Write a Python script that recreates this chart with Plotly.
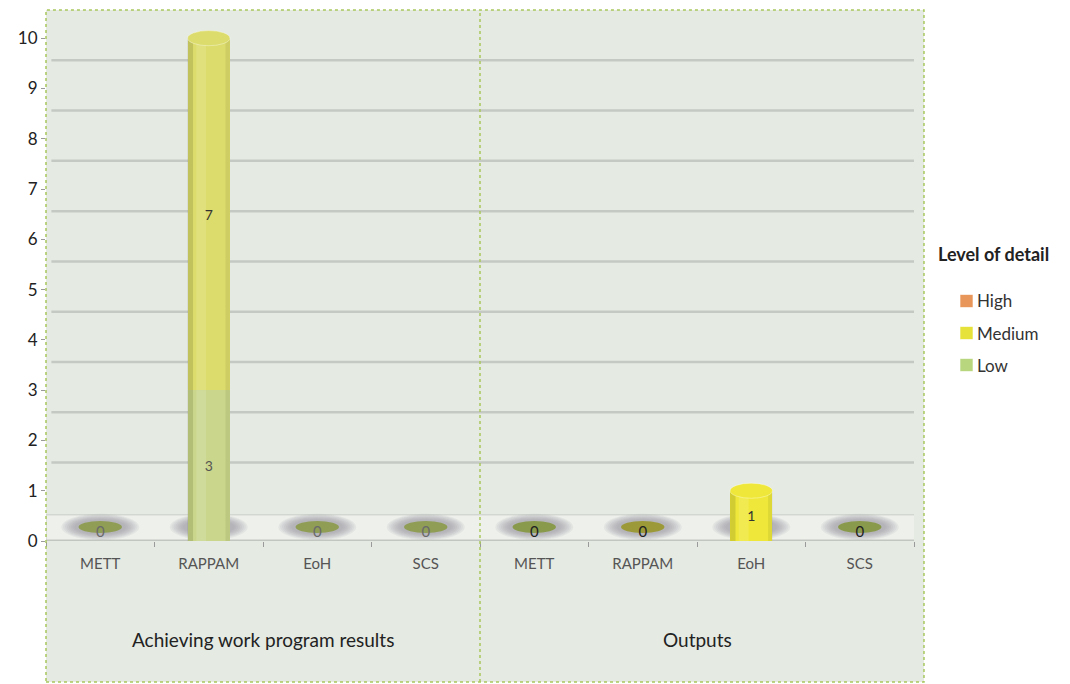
import plotly.graph_objects as go

# Categories: two evaluation groups, four tools each
tools = ["METT", "RAPPAM", "EoH", "SCS", "METT", "RAPPAM", "EoH", "SCS"]
groups = ["Achieving work program results", "Outputs"]

# Counts per level of detail
low = [0, 3, 0, 0, 0, 0, 0, 0]
medium = [0, 7, 0, 0, 0, 0, 1, 0]
high = [0, 0, 0, 0, 0, 0, 0, 0]

y_ticks = list(range(0, 11))

FONT = "Lato, 'Open Sans', sans-serif"
x = list(range(len(tools)))
BW = 0.39

low_col = ["#c9d68c"] * 8
med_col = ["#dcdc6c"] * 4 + ["#efe83a"] * 4
high_col = ["#e8965a"] * 8

fig = go.Figure()

def lbl(vals):
    return [str(v) if v else "" for v in vals]

for name, vals, cols, tc in [("Low", low, low_col, "#555555"),
                             ("Medium", medium, med_col, "#333333"),
                             ("High", high, high_col, "#333333")]:
    fig.add_trace(go.Bar(
        x=x, y=vals, name=name, width=BW,
        marker=dict(color=cols, line=dict(width=0)),
        text=lbl(vals), textposition="inside", insidetextanchor="middle",
        textfont=dict(family=FONT, size=14, color=tc),
        showlegend=False, hoverinfo="y+name",
    ))

totals = [a + b + c for a, b, c in zip(low, medium, high)]

# zero labels under empty categories
zx = [i for i, t in enumerate(totals) if t == 0]
fig.add_trace(go.Scatter(
    x=zx, y=[0.15] * len(zx), mode="text", text=["0"] * len(zx),
    textfont=dict(family=FONT, size=15,
                  color=["#6a6a6a" if i < 4 else "#222222" for i in zx]),
    showlegend=False, hoverinfo="skip",
))

shapes = []
# plot area background and dotted frame
shapes.append(dict(type="rect", xref="paper", yref="paper", x0=0, x1=1.0115,
                   y0=-0.2655, y1=1, fillcolor="#e5eae3", line=dict(width=0),
                   layer="below"))
shapes.append(dict(type="rect", xref="paper", yref="paper", x0=0, x1=1.0115,
                   y0=-0.2655, y1=1, fillcolor="rgba(0,0,0,0)",
                   line=dict(color="#a9c85e", width=1.5, dash="dot"),
                   layer="above"))
shapes.append(dict(type="line", xref="x", yref="paper", x0=3.5, x1=3.5,
                   y0=-0.2655, y1=1,
                   line=dict(color="#a9c85e", width=1.5, dash="dot"),
                   layer="above"))
# back-wall gridlines
for k in range(1, 10):
    shapes.append(dict(type="line", xref="x", yref="y", x0=-0.45, x1=7.52,
                       y0=k + 0.56, y1=k + 0.56,
                       line=dict(color="#c5c9c3", width=2.5), layer="below"))
# floor
shapes.append(dict(type="rect", xref="x", yref="y", x0=-0.5, x1=7.52,
                   y0=0, y1=0.52, fillcolor="#eef0ec",
                   line=dict(color="#d3d7d1", width=1.5), layer="below"))
shapes.append(dict(type="line", xref="x", yref="y", x0=-0.5, x1=7.52,
                   y0=0, y1=0, line=dict(color="#c2c6c0", width=3),
                   layer="below"))

# soft shadows and discs at the base of each category
disc_cols = ["#8f9d55", "#8f9d55", "#8f9d55", "#8f9d55",
             "#8a9a4c", "#9c9a38", "#8a9a4c", "#8a9a4c"]
for i in x:
    n = 8
    for s in range(n):
        f = 1 - s / n
        dx = 0.22 + 0.14 * f
        dy = 0.13 + 0.13 * f
        shapes.append(dict(type="circle", xref="x", yref="y",
                           x0=i - dx, x1=i + dx, y0=0.28 - dy, y1=0.28 + dy,
                           fillcolor="#8e949a", opacity=0.11,
                           line=dict(width=0), layer="below"))
    if totals[i] == 0:
        shapes.append(dict(type="circle", xref="x", yref="y",
                           x0=i - 0.2, x1=i + 0.2, y0=0.16, y1=0.4,
                           fillcolor=disc_cols[i], line=dict(width=0),
                           layer="below"))

# cylinder shading and caps on non-empty stacks
for i in x:
    if totals[i] == 0:
        continue
    x0, x1 = i - BW / 2, i + BW / 2
    base = 0
    for vals, cols in [(low, low_col), (medium, med_col), (high, high_col)]:
        v = vals[i]
        if v:
            shapes.append(dict(type="rect", xref="x", yref="y", x0=x0,
                               x1=x0 + 0.05, y0=base, y1=base + v,
                               fillcolor="rgba(80,80,20,0.18)",
                               line=dict(width=0), layer="above"))
            shapes.append(dict(type="rect", xref="x", yref="y", x0=x1 - 0.04,
                               x1=x1, y0=base, y1=base + v,
                               fillcolor="rgba(80,80,20,0.10)",
                               line=dict(width=0), layer="above"))
            shapes.append(dict(type="rect", xref="x", yref="y", x0=x0 + 0.08,
                               x1=x0 + 0.17, y0=base, y1=base + v,
                               fillcolor="rgba(255,255,255,0.12)",
                               line=dict(width=0), layer="above"))
            top_col = cols[i]
        base += v
    shapes.append(dict(type="circle", xref="x", yref="y", x0=x0, x1=x1,
                       y0=totals[i] - 0.15, y1=totals[i] + 0.15,
                       fillcolor=top_col,
                       line=dict(color="rgba(255,255,255,0.35)", width=1),
                       layer="above"))

# legend swatches
leg_items = [("High", "#e8965a"), ("Medium", "#e6e23a"), ("Low", "#b7d67e")]
annotations = []
PX = 868.0
PY = 531.0
def px_x(p):
    return (p - 46) / PX
def px_y(p):
    return (541 - p) / PY

annotations.append(dict(text="<b>Level of detail</b>", xref="paper", yref="paper",
                        x=px_x(936), y=px_y(254), xanchor="left", yanchor="middle",
                        showarrow=False, font=dict(family=FONT, size=18, color="#222222")))
for k, (name, col) in enumerate(leg_items):
    yc = 301 + 32 * k
    shapes.append(dict(type="rect", xref="paper", yref="paper",
                       x0=px_x(960), x1=px_x(973), y0=px_y(yc + 6.5), y1=px_y(yc - 6.5),
                       fillcolor=col, line=dict(color="rgba(255,255,255,0.6)", width=1)))
    annotations.append(dict(text=name, xref="paper", yref="paper",
                            x=px_x(975), y=px_y(yc), xanchor="left", yanchor="middle",
                            showarrow=False,
                            font=dict(family=FONT, size=17, color="#333333")))

# group labels
for g, name in enumerate(groups):
    annotations.append(dict(text=name, xref="x", yref="paper", x=1.5 + 4 * g,
                            y=px_y(639), xanchor="center", yanchor="middle",
                            showarrow=False,
                            font=dict(family=FONT, size=19, color="#222222")))

fig.update_layout(
    width=1070, height=684,
    margin=dict(l=46, r=156, t=10, b=143),
    barmode="stack",
    paper_bgcolor="white", plot_bgcolor="rgba(0,0,0,0)",
    font=dict(family=FONT),
    shapes=shapes, annotations=annotations,
    showlegend=False,
)
fig.update_xaxes(
    range=[-0.5, 7.5], tickvals=x, ticktext=tools,
    ticks="", showgrid=False, zeroline=False, showline=False,
    tickfont=dict(family=FONT, size=15, color="#555555"),
    ticklabelstandoff=12,
    minor=dict(tickvals=[i - 0.5 for i in range(9)], ticks="outside",
               ticklen=5, tickcolor="#9a9a9a", showgrid=False),
)
fig.update_yaxes(
    range=[0, 10.56], tickvals=y_ticks, ticks="outside", ticklen=4,
    tickcolor="#9a9a9a", showgrid=False, zeroline=False, showline=False,
    tickfont=dict(family=FONT, size=17, color="#222222"),
)

fig.write_html("out.html")
